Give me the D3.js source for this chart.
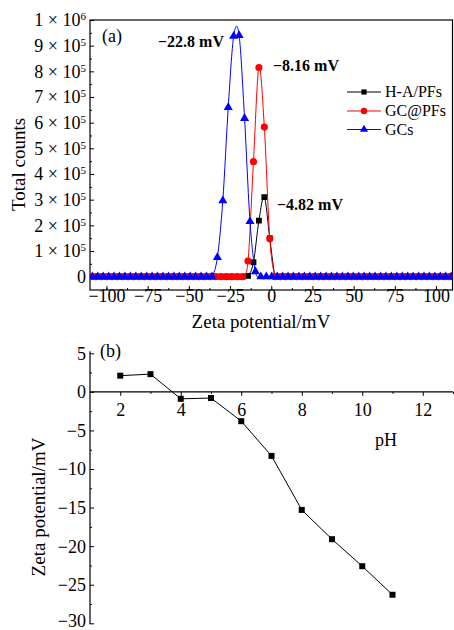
<!DOCTYPE html>
<html>
<head>
<meta charset="utf-8">
<script src="https://cdn.jsdelivr.net/npm/d3@7/dist/d3.min.js"></script>
<style>
  html, body { margin: 0; padding: 0; background: #fff; }
  svg { display: block; }
  text { font-family: "Liberation Serif", "Times New Roman", serif; fill: #000; }
</style>
</head>
<body>
<svg id="chart" width="454" height="630"></svg>
<script>
// ---------- Panel (a): zeta potential distributions ----------
const gridRB = [-109.8, -106.5, -103.2, -99.9, -96.6, -93.3, -90.0, -86.7, -83.4, -80.1, -76.8, -73.5, -70.2, -66.9, -63.6, -60.3, -57.0, -53.7, -50.4, -47.1, -43.8, -40.5, -37.2, -33.9, -30.6, -27.3, -24.0, -20.7, -17.4, -14.1, -10.8, -7.5, -4.2, -0.9, 2.4, 5.7, 9.0, 12.3, 15.6, 18.9, 22.2, 25.5, 28.8, 32.1, 35.4, 38.7, 42.0, 45.3, 48.6, 51.9, 55.2, 58.5, 61.8, 65.1, 68.4, 71.7, 75.0, 78.3, 81.6, 84.9, 88.2, 91.5, 94.8, 98.1, 101.4, 104.7, 108.0];
const gridB = [-108.6, -105.3, -102.0, -98.7, -95.4, -92.1, -88.8, -85.5, -82.2, -78.9, -75.6, -72.3, -69.0, -65.7, -62.4, -59.1, -55.8, -52.5, -49.2, -45.9, -42.6, -39.3, -36.0, -32.7, -29.4, -26.1, -22.8, -19.5, -16.2, -12.9, -9.6, -6.3, -3.0, 0.3, 3.6, 6.9, 10.2, 13.5, 16.8, 20.1, 23.4, 26.7, 30.0, 33.3, 36.6, 39.9, 43.2, 46.5, 49.8, 53.1, 56.4, 59.7, 63.0, 66.3, 69.6, 72.9, 76.2, 79.5, 82.8, 86.1, 89.4, 92.7, 96.0, 99.3, 102.6, 105.9, 109.2];

const countsHAPFs = [0,0,0,0,0,0,0,0,0,0, 0,0,0,0,0,0,0,0,0,0, 0,0,0,0,0,0,0,0,0,3000, 56000,218000,310000,150000,0,0,0,0,0,0, 0,0,0,0,0,0,0,0,0,0, 0,0,0,0,0,0,0,0,0,0, 0,0,0,0,0,0,0];
const countsGCPFs = [0,0,0,0,0,0,0,0,0,0, 0,0,0,0,0,0,0,0,0,0, 0,0,0,0,0,0,0,0,0,61000, 448000,815000,583000,148000,0,0,0,0,0,0, 0,0,0,0,0,0,0,0,0,0, 0,0,0,0,0,0,0,0,0,0, 0,0,0,0,0,0,0];
const countsGCs = [0,0,0,0,0,0,0,0,0,0, 0,0,0,0,0,0,0,0,0,0, 0,0,0,75000,296000,660000,937000,940000,617000,215000, 20000,0,0,0,0,0,0,0,0,0, 0,0,0,0,0,0,0,0,0,0, 0,0,0,0,0,0,0,0,0,0, 0,0,0,0,0,0,0];

const seriesNames = ["H-A/PFs", "GC@PFs", "GCs"];
const peakLabels = ["\u22124.82 mV", "\u22128.16 mV", "\u221222.8 mV"];

const xTicksA = [-100, -75, -50, -25, 0, 25, 50, 75, 100];
const yTicksA = [0, 1e5, 2e5, 3e5, 4e5, 5e5, 6e5, 7e5, 8e5, 9e5, 1e6];

// ---------- Panel (b): zeta potential vs pH ----------
const pH = [2, 3, 4, 5, 6, 7, 8, 9, 10, 11];
const zeta = [2.1, 2.3, -0.9, -0.8, -3.8, -8.3, -15.3, -19.1, -22.6, -26.3];
const xTicksB = [2, 4, 6, 8, 10, 12];
const yTicksB = [5, 0, -5, -10, -15, -20, -25, -30];

const svg = d3.select("#chart");
const minus = s => String(s).replace("-", "\u2212");

// ===== Panel (a) =====
const xA = d3.scaleLinear().domain([-110, 110]).range([90, 452.5]);
const yA = d3.scaleLinear().domain([-52000, 1e6]).range([290, 20]);

const gA = svg.append("g");

// minor ticks
gA.append("g").attr("transform", `translate(0,${yA.range()[0]})`)
  .call(d3.axisBottom(xA).tickValues(xTicksA.map(v => v + 12.5).concat([-112.5 + 25 - 12.5])).tickSizeInner(-2).tickSizeOuter(0).tickFormat(""))
  .call(g => g.select(".domain").remove());
gA.append("g").attr("transform", `translate(${xA.range()[0]},0)`)
  .call(d3.axisLeft(yA).tickValues(yTicksA.slice(0, -1).map(v => v + 5e4)).tickSizeInner(-2).tickSizeOuter(0).tickFormat(""))
  .call(g => g.select(".domain").remove());

// major x axis
gA.append("g").attr("transform", `translate(0,${yA.range()[0]})`)
  .call(d3.axisBottom(xA).tickValues(xTicksA).tickSizeInner(-4).tickSizeOuter(0).tickPadding(4).tickFormat(d => minus(d)))
  .call(g => g.select(".domain").remove())
  .call(g => g.selectAll("text").attr("font-size", 18).attr("y", 12).attr("dy", "0"));

// major y axis with superscripts
const yAxA = gA.append("g").attr("transform", `translate(${xA.range()[0]},0)`)
  .call(d3.axisLeft(yA).tickValues(yTicksA).tickSizeInner(-4).tickSizeOuter(0).tickPadding(4))
  .call(g => g.select(".domain").remove());
yAxA.selectAll("text").each(function(d) {
  const t = d3.select(this).text("").attr("font-size", 18).attr("dy", "0.33em");
  if (d === 0) { t.text("0"); return; }
  const e = Math.floor(Math.log10(d) + 1e-9);
  const m = Math.round(d / Math.pow(10, e));
  t.append("tspan").text(`${m} \u00d7 10`);
  t.append("tspan").text(String(e)).attr("font-size", 11).attr("dy", "-0.55em");
});

gA.selectAll(".tick line").attr("stroke", "#000");

// frame
gA.append("rect")
  .attr("x", xA.range()[0]).attr("y", yA.range()[1])
  .attr("width", xA.range()[1] - xA.range()[0]).attr("height", yA.range()[0] - yA.range()[1])
  .attr("fill", "none").attr("stroke", "#000").attr("stroke-width", 1.2);

// series
const colors = ["#000000", "#ff0000", "#0000ff"];
const symbols = [d3.symbolSquare, d3.symbolCircle, d3.symbolTriangle];
const symSizes = [34, 40, 36];
const grids = [gridRB, gridRB, gridB];
const counts = [countsHAPFs, countsGCPFs, countsGCs];

svg.append("clipPath").attr("id", "clipA").append("rect")
  .attr("x", 90).attr("y", 20).attr("width", 362.5).attr("height", 270);

const line = d3.line().x(d => xA(d[0])).y(d => yA(d[1])).curve(d3.curveCardinal.tension(0));

for (let i = 0; i < 3; i++) {
  const data = grids[i].map((x, k) => [x, counts[i][k]]);
  const gs = gA.append("g").attr("clip-path", "url(#clipA)");
  gs.append("path").datum(data).attr("d", line)
    .attr("fill", "none").attr("stroke", colors[i]).attr("stroke-width", 1);
  gs.selectAll("path.m").data(data).join("path").attr("class", "m")
    .attr("transform", d => `translate(${xA(d[0])},${yA(d[1])})`)
    .attr("d", d3.symbol(symbols[i], symSizes[i]))
    .attr("fill", colors[i]);
}

// legend
const legY = [92, 111, 129.5];
seriesNames.forEach((n, i) => {
  const lg = gA.append("g");
  lg.append("line").attr("x1", 347).attr("x2", 381).attr("y1", legY[i]).attr("y2", legY[i])
    .attr("stroke", colors[i]).attr("stroke-width", 1);
  lg.append("path").attr("transform", `translate(364,${legY[i]})`)
    .attr("d", d3.symbol(symbols[i], symSizes[i] * 0.8)).attr("fill", colors[i]);
  lg.append("text").attr("x", 385).attr("y", legY[i] + 5).attr("font-size", 16).text(n);
});

// annotations
gA.append("text").attr("x", 102).attr("y", 42).attr("font-size", 18).text("(a)");
gA.append("text").attr("x", 277).attr("y", 210).attr("font-size", 16).attr("font-weight", "bold").text(peakLabels[0]);
gA.append("text").attr("x", 273).attr("y", 71).attr("font-size", 16).attr("font-weight", "bold").text(peakLabels[1]);
gA.append("text").attr("x", 158).attr("y", 47).attr("font-size", 16).attr("font-weight", "bold").text(peakLabels[2]);

// axis titles
gA.append("text").attr("x", 261).attr("y", 328).attr("text-anchor", "middle").attr("font-size", 19).text("Zeta potential/mV");
gA.append("text").attr("transform", "translate(25,164.5) rotate(-90)").attr("text-anchor", "middle").attr("font-size", 19).text("Total counts");

// ===== Panel (b) =====
const xB = d3.scaleLinear().domain([1, 13]).range([90, 453]);
const yB = d3.scaleLinear().domain([-30, 5]).range([623.3, 353.3]);
const gB = svg.append("g");
const y0 = yB(0);

// y axis
gB.append("line").attr("x1", 90).attr("x2", 90).attr("y1", yB(5) - 2).attr("y2", yB(-30) + 1)
  .attr("stroke", "#000").attr("stroke-width", 1.2);
gB.append("g").attr("transform", `translate(90,0)`)
  .call(d3.axisLeft(yB).tickValues(yTicksB.slice(0, -1).map(v => v - 2.5)).tickSizeInner(-2).tickSizeOuter(0).tickFormat(""))
  .call(g => g.select(".domain").remove());
gB.append("g").attr("transform", `translate(90,0)`)
  .call(d3.axisLeft(yB).tickValues(yTicksB).tickSizeInner(-4).tickSizeOuter(0).tickPadding(4).tickFormat(d => minus(d)))
  .call(g => g.select(".domain").remove())
  .call(g => g.selectAll("text").attr("font-size", 18).attr("dy", d => d === -30 ? "0.2em" : "0.33em"));

// x axis at zero
gB.append("line").attr("x1", 90).attr("x2", 453).attr("y1", y0).attr("y2", y0)
  .attr("stroke", "#000").attr("stroke-width", 1.2);
gB.append("g").attr("transform", `translate(0,${y0})`)
  .call(d3.axisBottom(xB).tickValues(xTicksB.map(v => v + 1)).tickSizeInner(2).tickSizeOuter(0).tickFormat(""))
  .call(g => g.select(".domain").remove());
gB.append("g").attr("transform", `translate(0,${y0})`)
  .call(d3.axisBottom(xB).tickValues(xTicksB).tickSizeInner(4).tickSizeOuter(0).tickFormat(d => d))
  .call(g => g.select(".domain").remove())
  .call(g => g.selectAll("text").attr("font-size", 18).attr("y", 24).attr("dy", "0"));
gB.selectAll(".tick line").attr("stroke", "#000");

// data
const dataB = pH.map((p, i) => [p, zeta[i]]);
gB.append("path").datum(dataB)
  .attr("d", d3.line().x(d => xB(d[0])).y(d => yB(d[1])))
  .attr("fill", "none").attr("stroke", "#000").attr("stroke-width", 1);
gB.selectAll("rect.m").data(dataB).join("rect").attr("class", "m")
  .attr("x", d => xB(d[0]) - 3).attr("y", d => yB(d[1]) - 3)
  .attr("width", 6).attr("height", 6).attr("fill", "#000");

gB.append("text").attr("x", 100).attr("y", 357).attr("font-size", 18).text("(b)");
gB.append("text").attr("x", 375).attr("y", 446).attr("font-size", 18).text("pH");
gB.append("text").attr("transform", "translate(45,507) rotate(-90)").attr("text-anchor", "middle").attr("font-size", 19).text("Zeta potential/mV");
</script>
</body>
</html>
